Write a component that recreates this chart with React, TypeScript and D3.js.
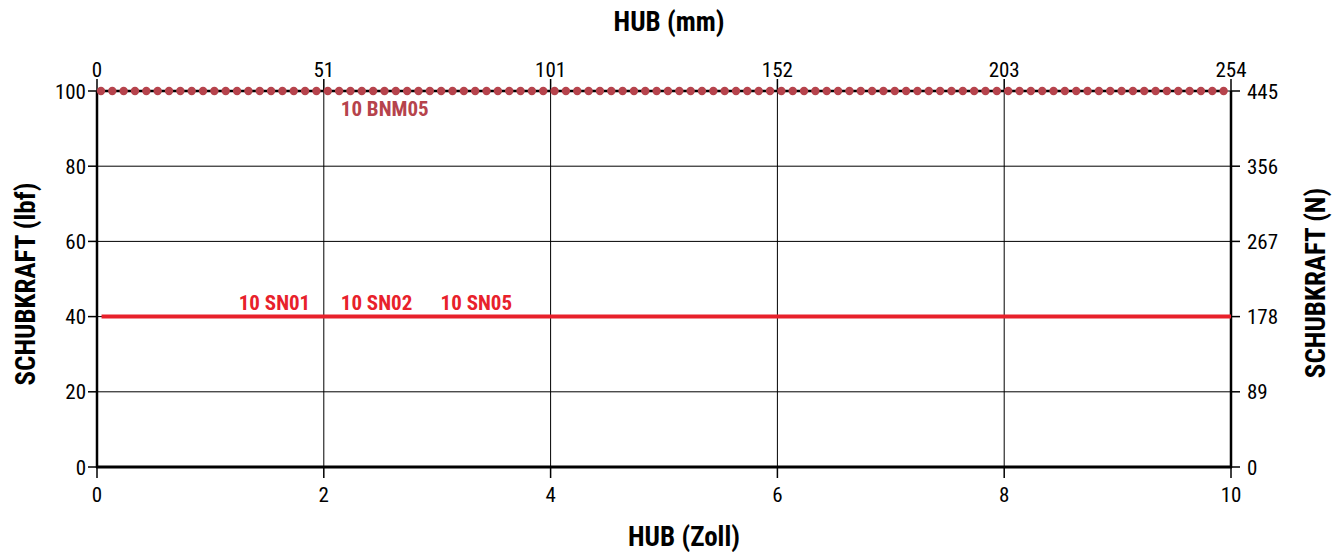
import React from 'react';
import * as d3 from 'd3';

// Hub in inches (bottom axis) and mm (top axis)
const hubInchTicks = [0, 2, 4, 6, 8, 10];
const hubMmLabels = ['0', '51', '101', '152', '203', '254'];

// Thrust in lbf (left) and N (right)
const forceLbfTicks = [0, 20, 40, 60, 80, 100];
const forceNLabels = ['0', '89', '178', '267', '356', '445'];

// series: [hub inch, force lbf]
const bnm05: [number, number][] = [[0, 100], [9.94, 100]];
const sn: [number, number][] = [[0.04, 40], [10, 40]];

const bnmLabel = { text: '10 BNM05', x: 2.15, y: 95 };
const snLabels = [
  { text: '10 SN01', x: 1.25 },
  { text: '10 SN02', x: 2.15 },
  { text: '10 SN05', x: 3.03 },
];

const W = 1343;
const H = 552;
const FONT = '"Liberation Sans Narrow", "Roboto Condensed", "Arial Narrow", Roboto, sans-serif';

const App: React.FC = () => {
  const x = d3.scaleLinear().domain([0, 10]).range([97, 1231]);
  const y = d3.scaleLinear().domain([0, 100]).range([467, 91]);
  const line = d3.line<[number, number]>().x(d => x(d[0])).y(d => y(d[1]));

  // markers every 0.1 inch along the BNM05 line, slightly offset from the origin
  const markerX = x.ticks(100).filter(v => v <= 9.9 + 1e-9).map(v => v + 0.035);

  return (
    <svg width={W} height={H} style={{ position: 'absolute', left: 0, top: 0 }} fontFamily={FONT}>
      <rect width={W} height={H} fill="#fff" />
      {/* grid */}
      {hubInchTicks.slice(1, -1).map(t => (
        <line key={'gx' + t} x1={x(t)} x2={x(t)} y1={y(100)} y2={y(0)} stroke="#000" strokeWidth={1} />
      ))}
      {forceLbfTicks.slice(1).map(t => (
        <line key={'gy' + t} x1={x(0)} x2={x(10)} y1={y(t)} y2={y(t)} stroke="#000" strokeWidth={1} />
      ))}

      {/* axes frame */}
      <line x1={x(0)} x2={x(0)} y1={y(100)} y2={y(0) + 1} stroke="#000" strokeWidth={2.5} />
      <line x1={x(10)} x2={x(10)} y1={y(100)} y2={y(0) + 1} stroke="#000" strokeWidth={2.5} />
      <line x1={x(0) - 1} x2={x(10) + 1} y1={y(0)} y2={y(0)} stroke="#000" strokeWidth={3} />

      {/* bottom ticks */}
      {hubInchTicks.map(t => (
        <g key={'bx' + t}>
          <line x1={x(t)} x2={x(t)} y1={y(0)} y2={y(0) + 11} stroke="#000" strokeWidth={1.5} />
          <text x={x(t)} y={502} textAnchor="middle" fontSize={21}>{t}</text>
        </g>
      ))}
      {/* top ticks */}
      {hubInchTicks.map((t, i) => (
        <g key={'tx' + t}>
          <line x1={x(t)} x2={x(t)} y1={y(100)} y2={y(100) - 12} stroke="#000" strokeWidth={1.5} />
          <text x={x(t)} y={77} textAnchor="middle" fontSize={21}>{hubMmLabels[i]}</text>
        </g>
      ))}
      {/* left ticks */}
      {forceLbfTicks.map(t => (
        <g key={'ly' + t}>
          <line x1={x(0) - 9} x2={x(0)} y1={y(t)} y2={y(t)} stroke="#000" strokeWidth={1.5} />
          <text x={86} y={y(t) + 7.5} textAnchor="end" fontSize={21}>{t}</text>
        </g>
      ))}
      {/* right ticks */}
      {forceLbfTicks.map((t, i) => (
        <g key={'ry' + t}>
          <line x1={x(10)} x2={x(10) + 9} y1={y(t)} y2={y(t)} stroke="#000" strokeWidth={1.5} />
          <text x={1247} y={y(t) + 7.5} textAnchor="start" fontSize={21}>{forceNLabels[i]}</text>
        </g>
      ))}

      {/* series */}
      <path d={line(sn) ?? ''} stroke="#e8212b" strokeWidth={4} fill="none" />
      <path d={line(bnm05) ?? ''} stroke="#000" strokeWidth={2.5} fill="none" />
      {markerX.map(v => (
        <circle key={'m' + v} cx={x(v)} cy={y(100)} r={4.2} fill="#b6434c" />
      ))}

      {/* labels */}
      <text x={x(bnmLabel.x)} y={y(bnmLabel.y) + 6} fontSize={21} fontWeight="bold" fill="#b6434c">{bnmLabel.text}</text>
      {snLabels.map(l => (
        <text key={l.text} x={x(l.x)} y={310} fontSize={21} fontWeight="bold" fill="#e8212b">{l.text}</text>
      ))}

      {/* axis titles */}
      <text x={669} y={31} textAnchor="middle" fontSize={27} fontWeight="bold">HUB (mm)</text>
      <text x={684} y={546} textAnchor="middle" fontSize={27} fontWeight="bold">HUB (Zoll)</text>
      <text transform={`translate(35,${y(50) + 5}) rotate(-90)`} textAnchor="middle" fontSize={27} fontWeight="bold">SCHUBKRAFT (lbf)</text>
      <text transform={`translate(1325,${y(50) + 4}) rotate(-90)`} textAnchor="middle" fontSize={27} fontWeight="bold">SCHUBKRAFT (N)</text>
    </svg>
  );
};

export default App;
